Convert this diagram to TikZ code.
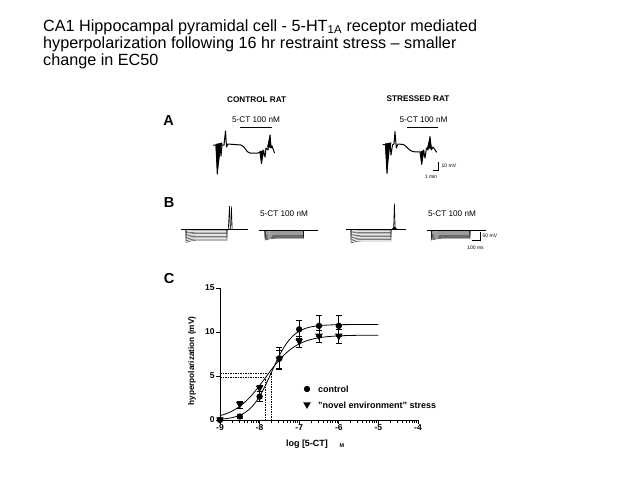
\documentclass[tikz,border=0pt]{standalone}
\usepackage{fontspec}
\setmainfont{Liberation Sans}
\newcommand\myfs[1]{\fontsize{#1}{#1}\selectfont}
\tikzset{
  trace/.style={line width=1pt, line join=round},
  famline/.style={line width=0.45pt, black!80},
  axisline/.style={line width=0.8pt},
  fitcurve/.style={line width=0.8pt},
  ebar/.style={line width=0.7pt},
  dashline/.style={line width=0.6pt, dash pattern=on 1.5pt off 1pt},
  lbl/.style={inner sep=0pt, font=\myfs{8.2}},
  blbl/.style={inner sep=0pt, font=\myfs{8.2}\bfseries},
  tiny/.style={inner sep=0pt, font=\myfs{5}},
  panel/.style={inner sep=0pt, font=\myfs{14.5}\bfseries},
  titleline/.style={inner sep=0pt, anchor=base west, font=\myfs{16.2}},
}
% family of hyperpolarising steps
\newcommand\stepfam[8]{%
  \foreach \k in {1,...,#7}{
    \draw[famline,#8] (#2,#5) -- (#2,{#5+\k*#6/#7*1.18})
      .. controls ({#2+4},{#5+\k*#6/#7*1.05}) and ({#2+6},{#5+\k*#6/#7}) .. ({#2+10},{#5+\k*#6/#7})
      -- (#3,{#5+\k*#6/#7}) -- (#3,#5);
  }
  \draw[line width=0.8pt] (#1,#5) -- (#4,#5);
}
\newcommand\cmark[2]{\fill (#1,#2) circle (3.2pt);}
\newcommand\tmark[2]{\fill (#1,#2) ++(-3.8pt,2.7pt) -- ++(7.6pt,0pt) -- ++(-3.8pt,-6.6pt) -- cycle;}
\begin{document}
\begin{tikzpicture}[x=1pt,y=-1pt]
\useasboundingbox (0,0) rectangle (640,480);
\fill[white] (0,0) rectangle (640,480);

% title
\node[titleline] (t1) at (43,31) {CA1 Hippocampal pyramidal cell - 5-HT\textsubscript{1A} receptor mediated};
\node[titleline] (t2) at (43,48) {hyperpolarization following 16 hr restraint stress – smaller};
\node[titleline] (t3) at (43,65) {change in EC50};

% panel letters
\node[panel] (pa) at (168.5,121) {A};
\node[panel] (pb) at (169,203) {B};
\node[panel] (pc) at (169,279) {C};

% ---------- panel A ----------
\node[blbl] (ctl) at (256.7,100) {CONTROL RAT};
\node[blbl] (str) at (418,99) {STRESSED RAT};
\node[lbl] (ald1) at (256,119.5) {5-CT 100 nM};
\node[lbl] (ald2) at (423.5,119.5) {5-CT 100 nM};
\draw[line width=0.9pt] (240,127.3) -- (271.7,127.3);
\draw[line width=0.9pt] (406.7,127.3) -- (438.3,127.3);

% control trace
\fill (215.5,144) -- (217.3,174) -- (221,148) -- (222.5,142.5) -- cycle;
\fill (259.5,151) -- (261.5,163.5) -- (264.5,150.5) -- cycle;
\fill (267,147) -- (270,135) -- (271.5,148) -- cycle;
\draw[trace] (213,145) -- (216,145) -- (217.3,174) -- (219,150) -- (220,144) -- (221,156) -- (222,145)
  -- (224,145) -- (225.5,131) -- (226.5,147) -- (228,144) -- (241,145)
  .. controls (245,146) and (246,152.5) .. (250,153) -- (258,153) -- (260,152) -- (261.5,163.5)
  -- (263,150) -- (265,157) -- (266,148) -- (268,150) -- (270,135) -- (271,148) -- (272,146) -- (274.5,153);

% stressed trace
\fill (385,143.5) -- (387,173.3) -- (390,147) -- (391.5,142.5) -- cycle;
\fill (420.5,151) -- (421.7,164.3) -- (424.5,150.5) -- cycle;
\fill (427,148) -- (430,136.7) -- (432,149) -- cycle;
\draw[trace] (382.7,144.5) -- (385.5,144.5) -- (387,173.3) -- (388.5,150) -- (390,143) -- (391,155)
  -- (392.5,145) -- (394,144) -- (395,131.7) -- (396.3,148) -- (398,144) -- (403.3,144.5)
  .. controls (407,146) and (409,151) .. (413.3,151.7) -- (420,152) -- (421.7,164.3) -- (423.5,150)
  -- (425,158) -- (426.5,148) -- (428,150) -- (430,136.7) -- (431.3,150) -- (433,147) -- (436.7,152.3);

% scale bar A
\draw[line width=0.7pt] (432.5,170.5) -- (438,170.5) -- (438,162);
\node[tiny, anchor=west] (s10) at (441.5,166) {10 mV};
\node[tiny] (s1m) at (431,177) {1 min};

% ---------- panel B ----------
\node[lbl] (bl1) at (284,213.5) {5-CT 100 nM};
\node[lbl] (bl2) at (452,213.5) {5-CT 100 nM};

\stepfam{181}{186}{227}{248}{229.5}{11}{8}{}
\stepfam{259.3}{265}{303.3}{318.3}{230}{8.5}{9}{black!90}
\stepfam{345.5}{351}{391}{405.5}{229.5}{11.5}{8}{}
\stepfam{426.7}{431.7}{470}{486}{230}{8.5}{9}{black!90}

% spikes B
\draw[line width=0.6pt] (228.3,229.5) -- (229.5,206) -- (230.2,229.5);
\draw[line width=0.6pt] (230.6,229.5) -- (231.4,206.5) -- (232.2,229.5);
\draw[line width=0.6pt] (393.6,229.5) -- (394.4,203.3) -- (395.2,229.5);
\fill (391,229.8) -- (394.4,226.5) -- (398,229.8) -- cycle;

% scale bar B
\draw[line width=0.7pt] (471.7,240) -- (480,240) -- (480,231.7);
\node[tiny, anchor=west] (s50) at (482.5,235.5) {50 mV};
\node[tiny] (s100) at (475.5,248) {100 ms};

% ---------- panel C ----------
\node[blbl, rotate=90] (ylab) at (192,361) {hyperpolarization (mV)};
\node[inner sep=0pt, font=\myfs{9}\bfseries] (xlab) at (307,444) {log [5-CT]};
\node[inner sep=0pt, font=\myfs{5.5}\bfseries] (xlabm) at (342,446) {M};

\begin{scope}[xshift=220pt, yshift=-420pt, x=39.6pt, y=8.8pt]
  \draw[axisline] (0,15) -- (0,0) -- (5,0);
  \foreach \v in {0,5,10,15}
    \draw[axisline] (0,\v) -- ++(-4pt,0) node[anchor=east, inner sep=1pt, font=\myfs{8.5}\bfseries] {\v};
  \foreach \i/\l in {0/-9,1/-8,2/-7,3/-6,4/-5,5/-4}
    \draw[axisline] (\i,0) -- ++(0,-3.5pt) node[anchor=north, inner sep=0.8pt, font=\myfs{8.5}\bfseries] {\l};
  \foreach \d in {0,...,4}{
    \foreach \k in {2,...,9}{
      \draw[line width=0.5pt] ({\d+ln(\k)/ln(10)},0) -- ++(0,-2.5pt);
    }
  }
  % EC50 guides
  \draw[dashline] (0,5.35) -- (1.3,5.35) -- (1.3,0);
  \draw[dashline] (0,4.85) -- (1.15,4.85) -- (1.15,0);
  % fitted curves
  \draw[fitcurve] plot[domain=0:4, samples=90, smooth] (\x, {10.85/(1+10^((1.3-\x)*1.6))});
  \draw[fitcurve] plot[domain=0:4, samples=90, smooth] (\x, {9.65/(1+10^((1.15-\x)*1.1))});
  % error bars
  \foreach \px/\py/\e in {0.5/0.4/0.2, 1/2.65/0.55, 1.5/7.0/1.2, 2/10.3/1.0, 2.5/10.7/1.15, 3/10.7/1.15,
                          0.5/1.75/0.4, 1/3.6/0.3, 1.5/6.9/1.0, 2/8.9/0.65, 2.5/9.5/0.7, 3/9.5/0.8}{
    \draw[ebar] (\px,{\py-\e}) -- (\px,{\py+\e});
    \draw[ebar] (\px,{\py+\e}) ++(-3pt,0) -- ++(6pt,0);
    \draw[ebar] (\px,{\py-\e}) ++(-3pt,0) -- ++(6pt,0);
  }
  % markers
  \foreach \px/\py in {0/0, 0.5/0.4, 1/2.65, 1.5/7.0, 2/10.3, 2.5/10.7, 3/10.7}{\cmark{\px}{\py}}
  \foreach \px/\py in {0/0, 0.5/1.75, 1/3.6, 1.5/6.9, 2/8.9, 2.5/9.5, 3/9.5}{\tmark{\px}{\py}}
\end{scope}

% legend
\fill (307,389) circle (3.2pt);
\fill (307,405) ++(-3.8pt,2.7pt) -- ++(7.6pt,0pt) -- ++(-3.8pt,-6.6pt) -- cycle;
\node[inner sep=0pt, anchor=west, font=\myfs{9}\bfseries] (lg1) at (318,389) {control};
\node[inner sep=0pt, anchor=west, font=\myfs{9}\bfseries] (lg2) at (318,405) {"novel environment" stress};
\end{tikzpicture}
\end{document}
